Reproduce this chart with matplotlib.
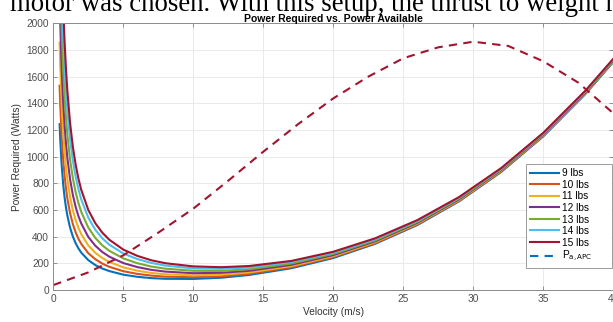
import matplotlib
matplotlib.use("Agg")
import matplotlib.pyplot as plt
from matplotlib.lines import Line2D

# velocity grid (m/s)
velocity = [0.45, 0.5, 0.6, 0.7, 0.8, 0.9, 1.0, 1.2, 1.4, 1.6, 1.8, 2, 2.5, 3, 3.5, 4,
            5, 6, 7, 8, 10, 12, 14, 17, 20, 23, 26, 29, 32, 35, 38, 40]

# power required (W) per aircraft weight
p_9lbs = [1244, 1120, 933, 800, 700, 622, 560, 467, 400, 350, 311, 280, 224, 187, 161, 142,
          115, 99, 89, 84, 83, 92, 113, 163, 240, 347, 487, 666, 886, 1152, 1469, 1710]
p_10lbs = [1533, 1380, 1150, 986, 863, 767, 690, 575, 493, 431, 383, 345, 276, 231, 198, 174,
           141, 121, 108, 100, 96, 103, 122, 171, 247, 352, 492, 670, 890, 1156, 1472, 1713]
p_11lbs = [1856, 1670, 1392, 1193, 1044, 928, 835, 696, 596, 522, 464, 418, 334, 279, 240, 210,
           170, 145, 128, 118, 110, 115, 132, 179, 254, 359, 498, 675, 895, 1160, 1476, 1717]
p_12lbs = [2211, 1990, 1658, 1421, 1244, 1106, 995, 829, 711, 622, 553, 498, 398, 332, 285, 250,
           202, 172, 151, 138, 126, 129, 144, 189, 262, 366, 504, 681, 900, 1165, 1480, 1721]
p_13lbs = [2600, 2340, 1950, 1671, 1463, 1300, 1170, 975, 836, 731, 650, 585, 468, 391, 335, 294,
           237, 201, 176, 160, 144, 143, 156, 199, 271, 373, 511, 687, 905, 1170, 1485, 1725]
p_14lbs = [3011, 2710, 2258, 1936, 1694, 1506, 1355, 1129, 968, 847, 753, 678, 542, 452, 388, 340,
           274, 232, 203, 183, 162, 159, 169, 210, 280, 381, 518, 693, 911, 1175, 1490, 1730]
p_15lbs = [3333, 3000, 2500, 2143, 1875, 1667, 1500, 1250, 1071, 938, 833, 750, 600, 501, 430, 377,
           303, 256, 223, 201, 177, 171, 180, 218, 287, 388, 524, 698, 915, 1179, 1494, 1734]

weights = ["9 lbs", "10 lbs", "11 lbs", "12 lbs", "13 lbs", "14 lbs", "15 lbs"]
p_required = [p_9lbs, p_10lbs, p_11lbs, p_12lbs, p_13lbs, p_14lbs, p_15lbs]

# power available (APC prop)
velocity_avail = [0, 2.5, 5, 7.5, 10, 12.5, 15, 17.5, 20, 22.5, 25, 27.5, 30, 32.5, 35, 37.5, 40]
p_avail = [37, 132, 260, 430, 610, 820, 1037, 1245, 1437, 1600, 1738, 1820, 1862, 1830, 1715, 1555, 1325]

colors = ["#0072BD", "#D95319", "#EDB120", "#7E2F8E", "#77AC30", "#4DBEEE", "#A2142F"]

plt.rcParams["font.family"] = ["Liberation Sans", "DejaVu Sans"]
W, H = 613, 322
fig = plt.figure(figsize=(W / 100, H / 100), dpi=100)
ax = fig.add_axes([53.3 / W, 1 - 290 / H, 560 / W, 266.7 / H])

# cropped document text above the figure
fig.text(10 / W, 1 - 11 / H, "motor was chosen. With this setup, the thrust to weight r",
         family="Liberation Serif", fontsize=19.3, va="baseline", ha="left")

handles = []
for lbl, p, c in zip(weights, p_required, colors):
    ln, = ax.plot(velocity, p, color=c, lw=1.5, label=lbl)
    handles.append(ln)
ax.plot(velocity_avail, p_avail, color="#A2142F", lw=1.5, ls=(0, (4, 3)))
handles.append(Line2D([], [], color="#0072BD", lw=1.5, ls=(0, (4, 3))))

ax.set_xlim(0, 40)
ax.set_ylim(0, 2000)
ax.set_xticks(range(0, 41, 5))
ax.set_yticks(range(0, 2001, 200))
ax.grid(color="#e6e6e6", lw=0.6)
ax.set_axisbelow(True)
ax.tick_params(direction="in", length=3, width=0.6, top=True, right=True,
               labelsize=7.3, colors="#808080", labelcolor="#4d4d4d", pad=3)
for s in ax.spines.values():
    s.set_color("#8c8c8c")
    s.set_linewidth(0.7)

ax.set_xlabel("Velocity (m/s)", fontsize=7.3, color="#333333", labelpad=2)
ax.set_ylabel("Power Required (Watts)", fontsize=7.3, color="#333333", labelpad=3)
ax.set_title("Power Required vs. Power Available", fontsize=7.5, fontweight="bold", pad=0.6)

leg = ax.legend(handles, weights + [r"P$_{\mathrm{a,APC}}$"], loc="upper left",
                bbox_to_anchor=(0.844, 0.094, 0.1536, 0.377), mode="expand",
                borderaxespad=0, fontsize=7.3, handlelength=2.9, labelspacing=0.15,
                handletextpad=0.3, borderpad=0.4,
                fancybox=False, framealpha=1, edgecolor="#8c8c8c")
leg.get_frame().set_linewidth(0.6)

fig.savefig("out.png", dpi=100)
